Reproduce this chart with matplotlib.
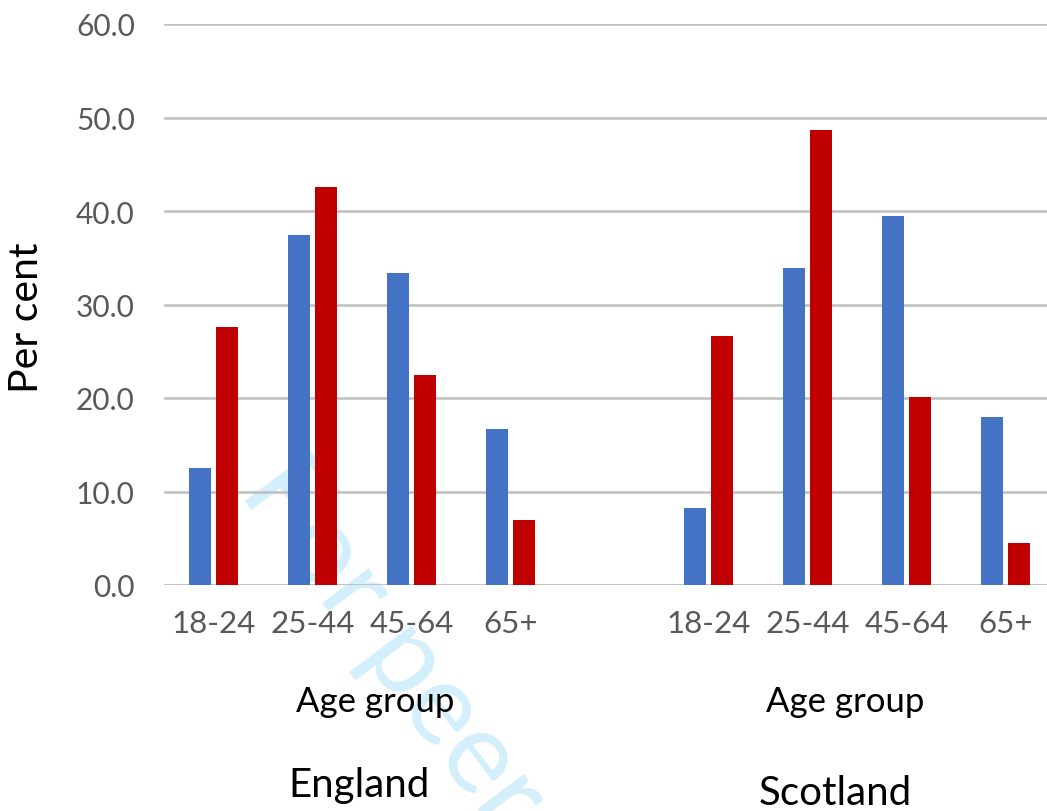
import matplotlib
matplotlib.use("Agg")
import matplotlib.pyplot as plt
import numpy as np

# Survey share by age group, two nations
age_groups = ["18-24", "25-44", "45-64", "65+"]
england_blue = [12.5, 37.4, 33.4, 16.7]
england_red = [27.6, 42.6, 22.5, 7.0]
scotland_blue = [8.2, 33.9, 39.5, 18.0]
scotland_red = [26.6, 48.7, 20.1, 4.5]
y_ticks = [0, 10, 20, 30, 40, 50, 60]

BLUE = "#4472C4"
RED = "#C00000"
GRID = "#BFBFBF"
TICK = "#595959"
FONT = "Lato"

W, H = 1047, 812
fig = plt.figure(figsize=(W / 100, H / 100), dpi=100)
fig.patch.set_facecolor("white")

# plot area in pixel terms (extends a little past the right edge)
left_px, right_px, top_px, bottom_px = 164, 1055, 25, 586
ax = fig.add_axes([left_px / W, (H - bottom_px) / H,
                   (right_px - left_px) / W, (bottom_px - top_px) / H])
ax.set_zorder(1)

# nine category slots: four for England, one blank spacer, four for Scotland
eng_x = np.arange(4)
sco_x = np.arange(4) + 5
bw = 0.222
off = 0.141

ax.bar(eng_x - off, england_blue, bw, color=BLUE, zorder=3)
ax.bar(eng_x + off, england_red, bw, color=RED, zorder=3)
ax.bar(sco_x - off, scotland_blue, bw, color=BLUE, zorder=3)
ax.bar(sco_x + off, scotland_red, bw, color=RED, zorder=3)

ax.set_xlim(-0.5, 8.5)
ax.set_ylim(0, 60)
ax.set_yticks(y_ticks)
ax.set_yticklabels([f"{v:.1f}" for v in y_ticks], fontfamily=FONT,
                   fontsize=21.5, color=TICK)
ax.set_xticks(list(eng_x) + list(sco_x))
ax.set_xticklabels(age_groups + age_groups, fontfamily=FONT, fontsize=22.5,
                   color=TICK)
ax.tick_params(axis="both", length=0)
ax.tick_params(axis="y", pad=21)
ax.tick_params(axis="x", pad=17)

ax.grid(axis="y", color=GRID, linewidth=1.8, zorder=1)
ax.set_axisbelow(True)
for s in ax.spines.values():
    s.set_visible(False)
ax.axhline(0, color=GRID, linewidth=1.8, zorder=2)
ax.set_facecolor("none")

# axis titles and group names
fig.text(27 / W, 1 - 318 / H, "Per cent", rotation=90, ha="center",
         va="center", fontfamily=FONT, fontsize=29.5, color="black", zorder=2)
fig.text(375 / W, 1 - 702 / H, "Age group", ha="center", va="center",
         fontfamily=FONT, fontsize=25, color="black", zorder=2)
fig.text(845 / W, 1 - 702 / H, "Age group", ha="center", va="center",
         fontfamily=FONT, fontsize=25, color="black", zorder=2)
fig.text(359 / W, 1 - 786 / H, "England", ha="center", va="center",
         fontfamily=FONT, fontsize=29, color="black", zorder=2)
fig.text(835 / W, 1 - 794 / H, "Scotland", ha="center", va="center",
         fontfamily=FONT, fontsize=29, color="black", zorder=2)

# diagonal review stamp, kept behind everything else
fig.text(238 / W, 1 - 492 / H, "For peer review", rotation=-53,
         rotation_mode="anchor", ha="left", va="baseline", fontfamily=FONT,
         fontweight="normal", fontsize=83, color="#D3EFFB", zorder=0)

fig.savefig("out.png", dpi=100, facecolor="white")
